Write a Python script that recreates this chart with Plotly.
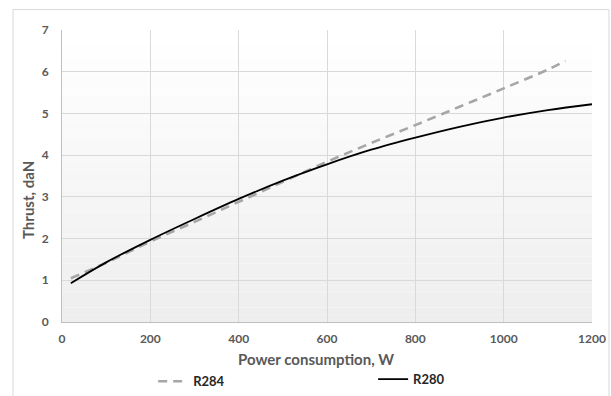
import plotly.graph_objects as go

# Data
power_r284 = [20, 100, 200, 300, 400, 500, 600, 700, 800, 900, 1000, 1100, 1140]
thrust_r284 = [1.05, 1.42, 1.93, 2.40, 2.88, 3.36, 3.84, 4.29, 4.72, 5.16, 5.60, 6.05, 6.26]

power_r280 = [20, 100, 200, 300, 400, 500, 600, 700, 800, 900, 1000, 1100, 1200]
thrust_r280 = [0.93, 1.43, 1.97, 2.47, 2.95, 3.39, 3.78, 4.13, 4.42, 4.68, 4.90, 5.08, 5.22]

x_ticks = [0, 200, 400, 600, 800, 1000, 1200]
y_ticks = [0, 1, 2, 3, 4, 5, 6, 7]

FONT = "Lato"
TICK_COLOR = "#595959"

fig = go.Figure()
fig.add_trace(go.Scatter(
    x=power_r284, y=thrust_r284, name="R284", mode="lines",
    line=dict(color="#a6a6a6", width=2.6, dash="9px,6px", shape="spline"),
    legend="legend",
))
fig.add_trace(go.Scatter(
    x=power_r280, y=thrust_r280, name="R280", mode="lines",
    line=dict(color="#000000", width=1.8, shape="spline"),
    legend="legend2",
))

# gradient plot background (white at top to light gray at bottom)
shapes = []
n = 40
for i in range(n):
    t = i / (n - 1)
    v = int(round(255 - (255 - 238) * (1 - t)))
    shapes.append(dict(
        type="rect", xref="x domain", yref="y domain",
        x0=0, x1=1, y0=i / n, y1=(i + 1) / n,
        fillcolor=f"rgb({v},{v},{v})", line=dict(width=0), layer="below",
    ))
# chart-area border
shapes.append(dict(
    type="rect", xref="paper", yref="paper",
    x0=-0.0925, x1=1.032, y0=-0.4, y1=1.07,
    line=dict(color="#d9d9d9", width=1), fillcolor="rgba(0,0,0,0)", layer="below",
))

fig.update_layout(
    width=611, height=396,
    margin=dict(l=62, r=19, t=30, b=74, autoexpand=False),
    paper_bgcolor="white", plot_bgcolor="rgba(0,0,0,0)",
    font=dict(family=FONT, color=TICK_COLOR),
    shapes=shapes,
    showlegend=True,
    legend=dict(x=0.172, y=-0.203, xanchor="left", yanchor="middle",
                orientation="h", bgcolor="rgba(0,0,0,0)",
                font=dict(family=FONT, size=13, color="#262626", weight="bold")),
    legend2=dict(x=0.587, y=-0.196, xanchor="left", yanchor="middle",
                 orientation="h", bgcolor="rgba(0,0,0,0)",
                 font=dict(family=FONT, size=13, color="#262626", weight="bold")),
    annotations=[
        dict(text="Thrust, daN", xref="paper", yref="paper", x=-0.064, y=0.418,
             textangle=-90, showarrow=False, xanchor="center", yanchor="middle",
             font=dict(family=FONT, size=15, color=TICK_COLOR, weight="bold")),
        dict(text="Power consumption, W", xref="paper", yref="paper", x=0.479, y=-0.128,
             showarrow=False, xanchor="center", yanchor="middle",
             font=dict(family=FONT, size=15, color=TICK_COLOR, weight="bold")),
    ],
)

fig.update_xaxes(
    range=[0, 1200], tickvals=x_ticks, ticktext=[str(v) for v in x_ticks],
    showgrid=True, gridcolor="#d9d9d9", gridwidth=1,
    showline=True, linecolor="#bfbfbf", linewidth=1, zeroline=False,
    ticks="", ticklabelstandoff=6, automargin=False,
    tickfont=dict(family=FONT, size=12, color=TICK_COLOR, weight="bold"),
)
fig.update_yaxes(
    range=[0, 7], tickvals=y_ticks, ticktext=[str(v) for v in y_ticks],
    showgrid=True, gridcolor="#d9d9d9", gridwidth=1,
    showline=True, linecolor="#bfbfbf", linewidth=1, zeroline=False,
    ticks="", ticklabelstandoff=10, automargin=False,
    tickfont=dict(family=FONT, size=12, color=TICK_COLOR, weight="bold"),
)

fig.write_html("out.html")
